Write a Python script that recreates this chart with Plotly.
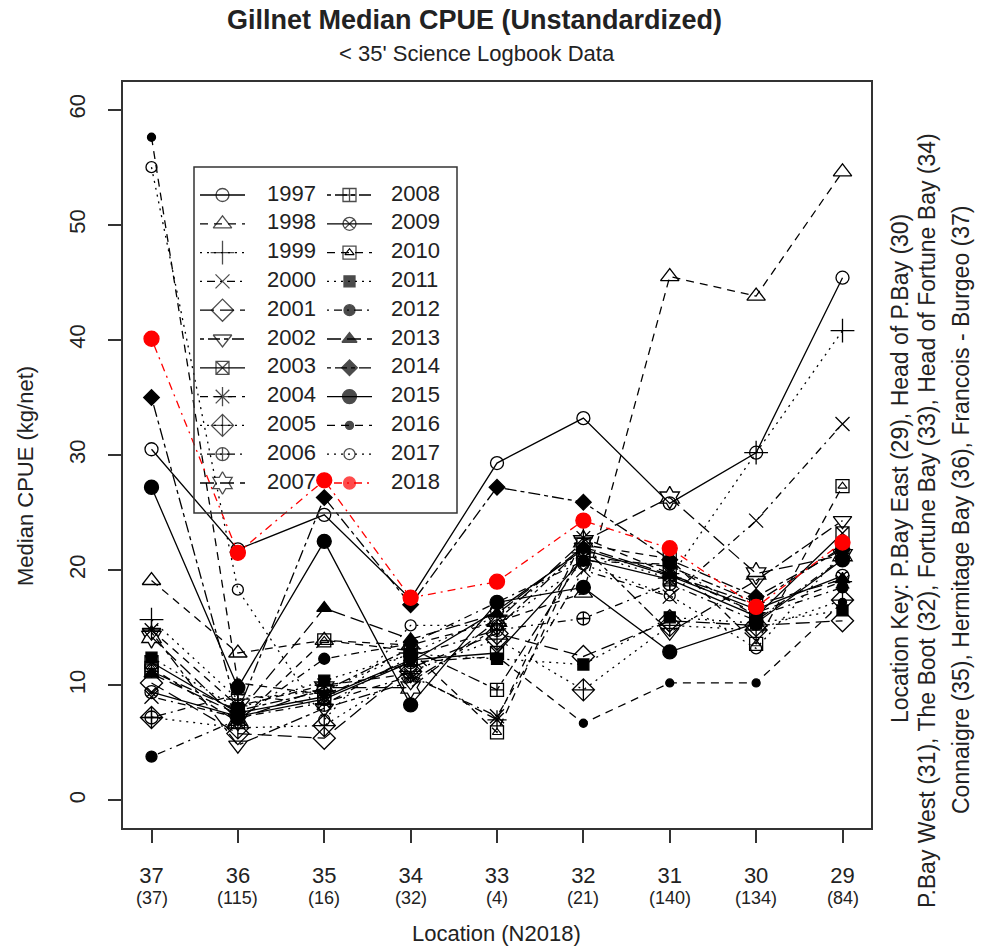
import plotly.graph_objects as go

# Location codes along the x axis (west to east) and 2018 sample counts
locations = ["37", "36", "35", "34", "33", "32", "31", "30", "29"]
sample_counts = ["(37)", "(115)", "(16)", "(32)", "(4)", "(21)", "(140)", "(134)", "(84)"]
y_ticks = [0, 10, 20, 30, 40, 50, 60]

# Median CPUE (kg/net) per year, ordered as `locations`
cpue_1997 = [30.5, 21.8, 24.8, 17.5, 29.3, 33.2, 25.8, 30.2, 45.4]
cpue_1998 = [19.1, 12.8, 13.9, 13.5, 15.5, 18.0, 45.5, 43.8, 54.6]
cpue_1999 = [15.7, 8.8, 9.5, 12.8, 16.0, 21.5, 19.3, 30.2, 40.8]
cpue_2000 = [9.0, 7.2, 8.5, 10.8, 7.3, 20.0, 17.7, 24.3, 32.7]
cpue_2001 = [10.2, 5.8, 5.4, 11.5, 14.5, 12.5, 15.6, 15.2, 15.6]
cpue_2002 = [14.6, 4.8, 8.0, 10.3, 15.0, 22.0, 14.6, 19.1, 24.3]
cpue_2003 = [12.0, 7.6, 9.0, 12.2, 12.8, 21.0, 19.2, 16.0, 23.2]
cpue_2004 = [14.8, 8.2, 10.0, 11.0, 7.0, 22.8, 19.7, 16.3, 19.0]
cpue_2005 = [7.2, 6.3, 6.5, 11.2, 14.0, 9.6, 15.2, 14.8, 17.4]
cpue_2006 = [7.2, 9.2, 8.3, 12.5, 14.8, 15.8, 18.8, 15.6, 21.0]
cpue_2007 = [14.2, 7.0, 9.8, 9.8, 15.6, 22.5, 26.3, 19.7, 21.3]
cpue_2008 = [11.2, 7.8, 9.5, 13.2, 9.6, 21.2, 20.3, 17.2, 22.0]
cpue_2009 = [9.4, 7.3, 8.8, 12.0, 16.5, 21.8, 19.5, 16.6, 19.5]
cpue_2010 = [11.5, 6.8, 13.9, 13.0, 5.9, 22.2, 21.0, 13.6, 27.3]
cpue_2011 = [12.4, 8.0, 10.4, 12.7, 12.3, 11.8, 15.9, 15.4, 16.5]
cpue_2012 = [3.8, 7.0, 12.3, 13.6, 17.2, 20.8, 20.5, 16.0, 18.5]
cpue_2013 = [11.0, 7.5, 16.7, 14.0, 16.2, 22.0, 19.6, 17.0, 19.2]
cpue_2014 = [35.0, 7.7, 26.3, 17.0, 27.2, 25.9, 20.9, 17.7, 21.8]
cpue_2015 = [27.2, 9.8, 22.5, 8.3, 17.2, 18.5, 12.9, 15.4, 20.9]
cpue_2016 = [57.6, 10.2, 9.2, 12.0, 12.5, 6.7, 10.2, 10.2, 17.2]
cpue_2017 = [55.0, 18.3, 7.0, 15.2, 15.2, 20.5, 17.8, 13.2, 21.5]
cpue_2018 = [40.1, 21.5, 27.8, 17.6, 19.0, 24.3, 21.9, 16.8, 22.4]

years = ["1997", "1998", "1999", "2000", "2001", "2002", "2003", "2004",
         "2005", "2006", "2007", "2008", "2009", "2010", "2011", "2012",
         "2013", "2014", "2015", "2016", "2017", "2018"]
series = [cpue_1997, cpue_1998, cpue_1999, cpue_2000, cpue_2001, cpue_2002,
          cpue_2003, cpue_2004, cpue_2005, cpue_2006, cpue_2007, cpue_2008,
          cpue_2009, cpue_2010, cpue_2011, cpue_2012, cpue_2013, cpue_2014,
          cpue_2015, cpue_2016, cpue_2017, cpue_2018]

# R lty 1..6 cycle
DASHES = ["solid", "8px,6px", "2px,5px", "2px,5px,8px,5px", "14px,6px", "4px,4px,12px,4px"]
# R pch 1..21 look-alikes: (symbol, size)
SYMBOLS = [
    ("circle-open", 13), ("triangle-up-open", 16), ("cross-thin-open", 17),
    ("x-thin-open", 14), ("diamond-open", 17), ("triangle-down-open", 16),
    ("square-x-open", 13), ("asterisk-open", 16), ("diamond-cross-open", 17),
    ("circle-cross-open", 13), ("hexagram-open", 17), ("square-cross-open", 13),
    ("circle-x-open", 13), ("square-open", 13), ("square", 11), ("circle", 11),
    ("triangle-up", 13), ("diamond", 12), ("circle", 14), ("circle", 8),
    ("circle-open", 11), ("circle", 15),
]

FONT = "Liberation Sans, Arial, sans-serif"
INK = "#222222"
BOX = "#333333"


def style_for(i):
    color = "#ff0000" if years[i] == "2018" else "black"
    symbol, size = SYMBOLS[i]
    return color, DASHES[i % 6], symbol, size


fig = go.Figure()

for i, values in enumerate(series):
    color, dash, symbol, size = style_for(i)
    fig.add_trace(go.Scatter(
        x=locations, y=values, mode="lines+markers", name=years[i],
        line=dict(color=color, width=1.3, dash=dash),
        marker=dict(symbol=symbol, size=size, color=color,
                    line=dict(width=1.3, color=color)),
        showlegend=False,
    ))
    if years[i] == "2010":
        # square with a triangle inside
        fig.add_trace(go.Scatter(
            x=locations, y=values, mode="markers", showlegend=False,
            marker=dict(symbol="triangle-up-open", size=8, color=color,
                        line=dict(width=1.1, color=color)),
        ))

# hand-built two-column legend (box coordinates in pixels, y downward)
ROW0, ROW_STEP = 28, 28.8
COLS = [(6, 51, 73), (133, 178, 197)]
for i, year in enumerate(years):
    color, dash, symbol, size = style_for(i)
    col, row = divmod(i, 11)
    x0, x1, tx = COLS[col]
    ry = ROW0 + row * ROW_STEP
    leg_size = min(size, 12) if year == "2018" else size
    fig.add_trace(go.Scatter(
        x=[x0, (x0 + x1) / 2, x1], y=[ry, ry, ry], mode="lines+markers",
        xaxis="x2", yaxis="y2", showlegend=False, hoverinfo="skip",
        line=dict(color=color, width=1.3, dash=dash),
        marker=dict(symbol=symbol, size=[0, leg_size, 0], color=color,
                    line=dict(width=1.3, color=color)),
    ))
    if year == "2010":
        fig.add_trace(go.Scatter(
            x=[(x0 + x1) / 2], y=[ry], mode="markers", xaxis="x2", yaxis="y2",
            showlegend=False, hoverinfo="skip",
            marker=dict(symbol="triangle-up-open", size=8, color=color,
                        line=dict(width=1.1, color=color)),
        ))
    fig.add_trace(go.Scatter(
        x=[tx], y=[ry], mode="text", text=[year], textposition="middle right",
        textfont=dict(family=FONT, size=22, color=INK),
        xaxis="x2", yaxis="y2", showlegend=False, hoverinfo="skip",
    ))

W, H = 985, 949
ML, MR, MT, MB = 123, 114, 82, 121
PW, PH = W - ML - MR, H - MT - MB


def px_x(px):
    return (px - ML) / PW


def px_y(py):
    return (H - MB - py) / PH


LEG = dict(x0=px_x(194), x1=px_x(457), y0=px_y(513), y1=px_y(167))

axis_common = dict(
    showgrid=False, zeroline=False, showline=True, mirror=True,
    linecolor=BOX, linewidth=1.5, ticks="outside", ticklen=13,
    tickwidth=1.5, tickcolor=BOX,
    tickfont=dict(family=FONT, size=22, color=INK),
)

fig.update_layout(
    width=W, height=H,
    margin=dict(l=ML, r=MR, t=MT, b=MB),
    paper_bgcolor="white", plot_bgcolor="rgba(0,0,0,0)",
    showlegend=False,
    xaxis=dict(type="category", range=[-0.33, 8.33], ticklabelstandoff=14,
               **axis_common),
    yaxis=dict(range=[-2.4, 62.4], tickvals=y_ticks, tickangle=-90,
               ticklabelstandoff=14, **axis_common),
    xaxis2=dict(domain=[LEG["x0"], LEG["x1"]], range=[0, 263], visible=False,
                anchor="y2", fixedrange=True),
    yaxis2=dict(domain=[LEG["y0"], LEG["y1"]], range=[346, 0], visible=False,
                anchor="x2", fixedrange=True),
    shapes=[dict(type="rect", xref="paper", yref="paper", line=dict(color=BOX, width=1.5),
                 **LEG)],
)

annotations = [
    dict(text="<b>Gillnet Median CPUE (Unstandardized)</b>", x=px_x(474), y=px_y(20),
         font=dict(size=27)),
    dict(text="< 35' Science Logbook Data", x=px_x(477), y=px_y(54), font=dict(size=22)),
    dict(text="Location (N2018)", x=px_x(496), y=px_y(933), font=dict(size=22)),
    dict(text="Median CPUE (kg/net)", x=px_x(25), y=px_y(476), textangle=-90,
         font=dict(size=22)),
    dict(text="Location Key: P.Bay East (29), Head of P.Bay (30)", x=px_x(900),
         y=px_y(469), textangle=-90, font=dict(size=23)),
    dict(text="P.Bay West (31), The Boot (32), Fortune Bay (33), Head of Fortune Bay (34)",
         x=px_x(927), y=px_y(521), textangle=-90, font=dict(size=23)),
    dict(text="Connaigre (35), Hermitage Bay (36), Francois - Burgeo (37)", x=px_x(961),
         y=px_y(510), textangle=-90, font=dict(size=23)),
]
for a in annotations:
    a.update(xref="paper", yref="paper", showarrow=False, xanchor="center",
             yanchor="middle")
    a["font"].update(family=FONT, color=INK)

# sample sizes under each location tick (category index positions)
for pos, n in enumerate(sample_counts):
    annotations.append(dict(
        text=n, x=pos, xref="x", y=0, yref="paper", yshift=-70, showarrow=False,
        xanchor="center", yanchor="middle", font=dict(family=FONT, size=18, color=INK),
    ))

fig.update_layout(annotations=annotations)

fig.write_html("out.html", config={"displayModeBar": False},
               post_script="document.body.style.margin='0';")
